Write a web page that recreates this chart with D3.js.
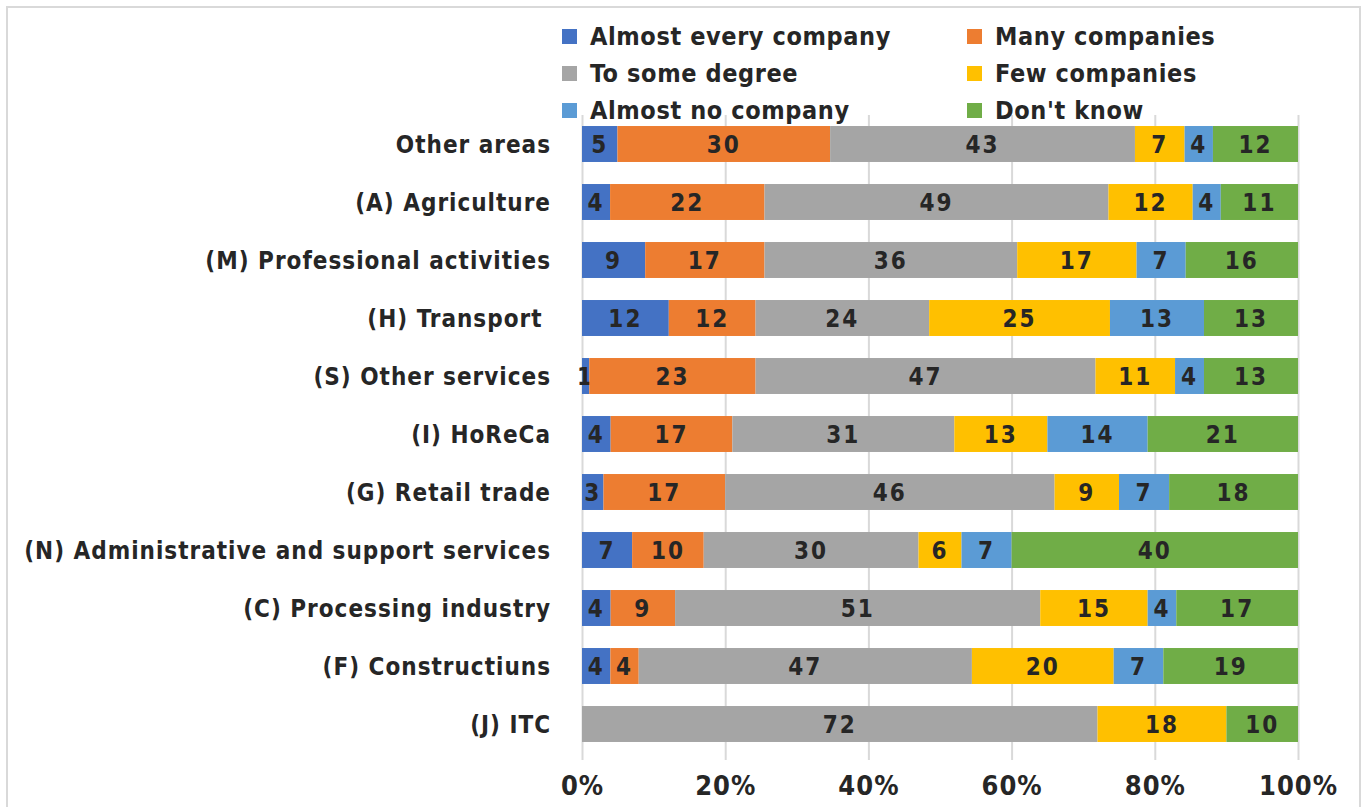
<!DOCTYPE html>
<html>
<head>
<meta charset="utf-8">
<script src="https://cdn.jsdelivr.net/npm/d3@7"></script>
<style>
  body { margin: 0; background: #fff; }
  svg text { font-family: "DejaVu Sans Condensed", "DejaVu Sans", sans-serif; font-weight: bold; fill: #262626; }
</style>
</head>
<body>
<div id="chart"></div>
<script>
// categories, top to bottom
var categories = [
    'Other areas',
    '(A) Agriculture',
    '(M) Professional activities',
    '(H) Transport ',
    '(S) Other services',
    '(I) HoReCa',
    '(G) Retail trade',
    '(N) Administrative and support services',
    '(C) Processing industry',
    '(F) Constructiuns',
    '(J) ITC'
];
var seriesNames = ['Almost every company','Many companies','To some degree','Few companies','Almost no company',"Don't know"];
var seriesColors = ['#4472C4','#ED7D31','#A5A5A5','#FFC000','#5B9BD5','#70AD47'];

// one array per series, same order as categories
var almostEvery = [5, 4, 9, 12, 1, 4, 3, 7, 4, 4, 0];
var many        = [30, 22, 17, 12, 23, 17, 17, 10, 9, 4, 0];
var someDegree  = [43, 49, 36, 24, 47, 31, 46, 30, 51, 47, 72];
var few         = [7, 12, 17, 25, 11, 13, 9, 6, 15, 20, 18];
var almostNo    = [4, 4, 7, 13, 4, 14, 7, 7, 4, 7, 0];
var dontKnow    = [12, 11, 16, 13, 13, 21, 18, 40, 17, 19, 10];

var xTicks = [0, 0.2, 0.4, 0.6, 0.8, 1];

var width = 1367, height = 807;
var margin = {top: 115, right: 69, bottom: 54, left: 582};

var svg = d3.select('#chart').append('svg')
    .attr('width', width)
    .attr('height', height);

// outer frame
svg.append('rect')
    .attr('x', 7).attr('y', 7)
    .attr('width', 1353).attr('height', 820)
    .attr('fill', 'none')
    .attr('stroke', '#d9d9d9')
    .attr('stroke-width', 2);

var series = [almostEvery, many, someDegree, few, almostNo, dontKnow];
var rows = categories.map(function(c, i){
    var row = {category: c};
    var total = d3.sum(series, function(s){ return s[i]; });
    seriesNames.forEach(function(n, k){ row[n] = series[k][i] / total; row[n + '_raw'] = series[k][i]; });
    return row;
});

var x = d3.scaleLinear().domain([0, 1]).range([margin.left, width - margin.right]);
var y = d3.scaleBand().domain(categories).range([margin.top, height - margin.bottom]).paddingInner(0.38).paddingOuter(0.19);

// gridlines + bottom ticks
var grid = svg.append('g')
    .attr('transform', 'translate(0,' + (height - margin.bottom) + ')')
    .call(d3.axisBottom(x).tickValues(xTicks).tickSize(-(height - margin.bottom - margin.top)).tickFormat(''));
grid.select('.domain').remove();
grid.selectAll('line').attr('stroke', '#d9d9d9').attr('stroke-width', 2).attr('y2', -(height - margin.bottom - margin.top)).attr('y1', 7);

var xAxis = svg.append('g')
    .attr('transform', 'translate(0,' + (height - margin.bottom) + ')')
    .call(d3.axisBottom(x).tickValues(xTicks).tickSize(0).tickPadding(23).tickFormat(d3.format('.0%')));
xAxis.select('.domain').remove();
xAxis.selectAll('text').style('font-size', '27px').style('letter-spacing', '1px').attr('fill', '#262626');

var stack = d3.stack().keys(seriesNames)(rows);

var layers = svg.selectAll('.layer').data(stack).enter().append('g')
    .attr('class', 'layer')
    .attr('fill', function(d, i){ return seriesColors[i]; });

layers.selectAll('rect').data(function(d){ return d; }).enter().append('rect')
    .attr('x', function(d){ return x(d[0]); })
    .attr('y', function(d){ return y(d.data.category); })
    .attr('width', function(d){ return x(d[1]) - x(d[0]); })
    .attr('height', y.bandwidth());

layers.each(function(layer){
    d3.select(this).selectAll('text.val').data(layer.filter(function(d){ return d.data[layer.key + '_raw'] > 0; }))
        .enter().append('text')
        .attr('class', 'val')
        .attr('x', function(d){ return (x(d[0]) + x(d[1])) / 2; })
        .attr('y', function(d){ return y(d.data.category) + y.bandwidth() / 2; })
        .attr('dy', '0.36em')
        .attr('text-anchor', 'middle')
        .style('font-size', '24px')
        .style('letter-spacing', '2px')
        .text(function(d){ return d.data[layer.key + '_raw']; });
});

// category labels (keep trailing spaces, like the original)
svg.append('g').selectAll('text').data(categories).enter().append('text')
    .attr('x', margin.left - 31)
    .attr('y', function(d){ return y(d) + y.bandwidth() / 2; })
    .attr('dy', '0.36em')
    .attr('text-anchor', 'end')
    .style('font-size', '24px')
    .style('letter-spacing', '1px')
    .style('white-space', 'pre')
    .text(function(d){ return d; });

// legend, two columns
var legend = svg.append('g').selectAll('g').data(seriesNames).enter().append('g')
    .attr('transform', function(d, i){ return 'translate(' + (i % 2 === 0 ? 562 : 967) + ',' + (36 + Math.floor(i / 2) * 37) + ')'; });
legend.append('rect')
    .attr('x', 0).attr('y', -7).attr('width', 15).attr('height', 15)
    .attr('fill', function(d, i){ return seriesColors[i]; });
legend.append('text')
    .attr('x', 28).attr('dy', '0.36em')
    .style('font-size', '25px')
    .style('letter-spacing', '0.6px')
    .text(function(d){ return d; });
</script>
</body>
</html>
